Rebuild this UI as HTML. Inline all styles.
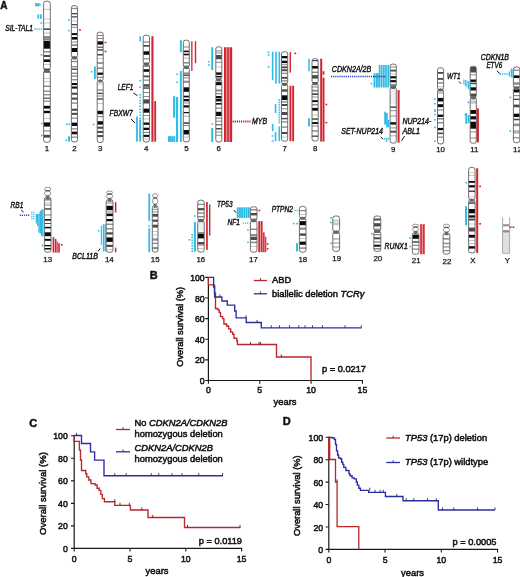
<!DOCTYPE html>
<html><head><meta charset="utf-8"><title>Figure</title>
<style>
html,body{margin:0;padding:0;background:#fff;}
body{width:520px;height:577px;overflow:hidden;font-family:"Liberation Sans", sans-serif;}
svg{display:block;filter:blur(0.3px);}
</style></head><body>
<svg width="520" height="577" viewBox="0 0 520 577">
<rect width="520" height="577" fill="#fff"/>
<g id="chroms">
<clipPath id="c1"><path d="M46 1.2H47.9A2.4 2.4 0 0 1 50.3 3.6V68.12A2.68 2.68 0 0 1 47.62 70.8H46.28A2.68 2.68 0 0 1 43.6 68.12V3.6A2.4 2.4 0 0 1 46 1.2Z"/><path d="M46.28 70.2H47.62A2.68 2.68 0 0 1 50.3 72.88V139.9A2.4 2.4 0 0 1 47.9 142.3H46A2.4 2.4 0 0 1 43.6 139.9V72.88A2.68 2.68 0 0 1 46.28 70.2Z"/></clipPath>
<g clip-path="url(#c1)"><rect x="43.6" y="1.2" width="6.7" height="141.1" fill="#fff"/>
<rect x="43.6" y="8.8" width="6.7" height="1.2" fill="#c8c8c8"/>
<rect x="43.6" y="18.5" width="6.7" height="1" fill="#c8c8c8"/>
<rect x="43.6" y="22.5" width="6.7" height="1" fill="#c8c8c8"/>
<rect x="43.6" y="28.4" width="6.7" height="1.6" fill="#4a4a4a"/>
<rect x="43.6" y="32.5" width="6.7" height="1.2" fill="#c8c8c8"/>
<rect x="43.6" y="36" width="6.7" height="4.6" fill="#8c8c8c"/>
<rect x="43.6" y="41" width="6.7" height="7.7" fill="#0a0a0a"/>
<rect x="43.6" y="51" width="6.7" height="1.5" fill="#8c8c8c"/>
<rect x="43.6" y="55" width="6.7" height="2" fill="#4a4a4a"/>
<rect x="43.6" y="59.4" width="6.7" height="2.6" fill="#0a0a0a"/>
<rect x="43.6" y="63.8" width="6.7" height="1.2" fill="#c8c8c8"/>
<rect x="43.6" y="68.5" width="6.7" height="4.1" fill="#4a4a4a"/>
<rect x="43.6" y="78" width="6.7" height="1" fill="#c8c8c8"/>
<rect x="43.6" y="81.2" width="6.7" height="1" fill="#c8c8c8"/>
<rect x="43.6" y="85.5" width="6.7" height="1.5" fill="#8c8c8c"/>
<rect x="43.6" y="90.5" width="6.7" height="1.4" fill="#8c8c8c"/>
<rect x="43.6" y="94" width="6.7" height="1.4" fill="#8c8c8c"/>
<rect x="43.6" y="97.6" width="6.7" height="1.2" fill="#4a4a4a"/>
<rect x="43.6" y="100.5" width="6.7" height="1.3" fill="#8c8c8c"/>
<rect x="43.6" y="105.8" width="6.7" height="2.8" fill="#0a0a0a"/>
<rect x="43.6" y="110.8" width="6.7" height="2.4" fill="#0a0a0a"/>
<rect x="43.6" y="118" width="6.7" height="1" fill="#c8c8c8"/>
<rect x="43.6" y="122.4" width="6.7" height="4.2" fill="#0a0a0a"/>
<rect x="43.6" y="130.3" width="6.7" height="1.2" fill="#8c8c8c"/>
<rect x="43.6" y="134.8" width="6.7" height="2.8" fill="#4a4a4a"/>
</g>
<g fill="none" stroke="#555" stroke-width="0.85"><path d="M46 1.2H47.9A2.4 2.4 0 0 1 50.3 3.6V68.12A2.68 2.68 0 0 1 47.62 70.8H46.28A2.68 2.68 0 0 1 43.6 68.12V3.6A2.4 2.4 0 0 1 46 1.2Z"/><path d="M46.28 70.2H47.62A2.68 2.68 0 0 1 50.3 72.88V139.9A2.4 2.4 0 0 1 47.9 142.3H46A2.4 2.4 0 0 1 43.6 139.9V72.88A2.68 2.68 0 0 1 46.28 70.2Z"/></g>
<path d="M46.95 68.8L49.4 72.4L44.5 72.4Z" fill="#666"/>
<clipPath id="c2"><path d="M73.69 5.6H75.21A2.29 2.29 0 0 1 77.5 7.89V55.36A2.44 2.44 0 0 1 75.06 57.8H73.84A2.44 2.44 0 0 1 71.4 55.36V7.89A2.29 2.29 0 0 1 73.69 5.6Z"/><path d="M73.84 57.2H75.06A2.44 2.44 0 0 1 77.5 59.64V139.71A2.29 2.29 0 0 1 75.21 142H73.69A2.29 2.29 0 0 1 71.4 139.71V59.64A2.44 2.44 0 0 1 73.84 57.2Z"/></clipPath>
<g clip-path="url(#c2)"><rect x="71.4" y="5.6" width="6.1" height="136.4" fill="#fff"/>
<rect x="71.4" y="7.8" width="6.1" height="1.3" fill="#8c8c8c"/>
<rect x="71.4" y="13" width="6.1" height="1.3" fill="#4a4a4a"/>
<rect x="71.4" y="16.2" width="6.1" height="1.3" fill="#4a4a4a"/>
<rect x="71.4" y="20.5" width="6.1" height="1" fill="#c8c8c8"/>
<rect x="71.4" y="24" width="6.1" height="1.3" fill="#4a4a4a"/>
<rect x="71.4" y="26.8" width="6.1" height="1" fill="#8c8c8c"/>
<rect x="71.4" y="33.1" width="6.1" height="2" fill="#0a0a0a"/>
<rect x="71.4" y="37" width="6.1" height="2.6" fill="#0a0a0a"/>
<rect x="71.4" y="41.5" width="6.1" height="1" fill="#8c8c8c"/>
<rect x="71.4" y="44.2" width="6.1" height="1.9" fill="#8c8c8c"/>
<rect x="71.4" y="48" width="6.1" height="4" fill="#0a0a0a"/>
<rect x="71.4" y="56.5" width="6.1" height="2" fill="#4a4a4a"/>
<rect x="71.4" y="60.8" width="6.1" height="1.4" fill="#8c8c8c"/>
<rect x="71.4" y="66" width="6.1" height="1.4" fill="#8c8c8c"/>
<rect x="71.4" y="68.5" width="6.1" height="1.4" fill="#4a4a4a"/>
<rect x="71.4" y="72.6" width="6.1" height="1.4" fill="#8c8c8c"/>
<rect x="71.4" y="75.4" width="6.1" height="1.4" fill="#8c8c8c"/>
<rect x="71.4" y="79" width="6.1" height="1.4" fill="#8c8c8c"/>
<rect x="71.4" y="83" width="6.1" height="2.1" fill="#0a0a0a"/>
<rect x="71.4" y="86.5" width="6.1" height="2.1" fill="#0a0a0a"/>
<rect x="71.4" y="92.7" width="6.1" height="2.1" fill="#4a4a4a"/>
<rect x="71.4" y="97.6" width="6.1" height="2.1" fill="#4a4a4a"/>
<rect x="71.4" y="102.4" width="6.1" height="1.4" fill="#8c8c8c"/>
<rect x="71.4" y="108.7" width="6.1" height="2.1" fill="#4a4a4a"/>
<rect x="71.4" y="112.8" width="6.1" height="2.1" fill="#4a4a4a"/>
<rect x="71.4" y="117.5" width="6.1" height="1.3" fill="#8c8c8c"/>
<rect x="71.4" y="122.6" width="6.1" height="3.4" fill="#0a0a0a"/>
<rect x="71.4" y="128.2" width="6.1" height="1.3" fill="#8c8c8c"/>
<rect x="71.4" y="131.6" width="6.1" height="2.7" fill="#0a0a0a"/>
<rect x="71.4" y="136.5" width="6.1" height="1.3" fill="#8c8c8c"/>
</g>
<g fill="none" stroke="#555" stroke-width="0.85"><path d="M73.69 5.6H75.21A2.29 2.29 0 0 1 77.5 7.89V55.36A2.44 2.44 0 0 1 75.06 57.8H73.84A2.44 2.44 0 0 1 71.4 55.36V7.89A2.29 2.29 0 0 1 73.69 5.6Z"/><path d="M73.84 57.2H75.06A2.44 2.44 0 0 1 77.5 59.64V139.71A2.29 2.29 0 0 1 75.21 142H73.69A2.29 2.29 0 0 1 71.4 139.71V59.64A2.44 2.44 0 0 1 73.84 57.2Z"/></g>
<path d="M74.45 55.8L76.6 59.4L72.3 59.4Z" fill="#666"/>
<clipPath id="c3"><path d="M99.45 32.2H100.95A2.25 2.25 0 0 1 103.2 34.45V78.4A2.4 2.4 0 0 1 100.8 80.8H99.6A2.4 2.4 0 0 1 97.2 78.4V34.45A2.25 2.25 0 0 1 99.45 32.2Z"/><path d="M99.6 80.2H100.8A2.4 2.4 0 0 1 103.2 82.6V140.25A2.25 2.25 0 0 1 100.95 142.5H99.45A2.25 2.25 0 0 1 97.2 140.25V82.6A2.4 2.4 0 0 1 99.6 80.2Z"/></clipPath>
<g clip-path="url(#c3)"><rect x="97.2" y="32.2" width="6" height="110.3" fill="#fff"/>
<rect x="97.2" y="35" width="6" height="1" fill="#8c8c8c"/>
<rect x="97.2" y="38" width="6" height="1" fill="#8c8c8c"/>
<rect x="97.2" y="41.3" width="6" height="3.3" fill="#0a0a0a"/>
<rect x="97.2" y="46.6" width="6" height="1.2" fill="#4a4a4a"/>
<rect x="97.2" y="49.2" width="6" height="1.5" fill="#4a4a4a"/>
<rect x="97.2" y="54" width="6" height="1.5" fill="#4a4a4a"/>
<rect x="97.2" y="58" width="6" height="1" fill="#c8c8c8"/>
<rect x="97.2" y="62.2" width="6" height="1.7" fill="#8c8c8c"/>
<rect x="97.2" y="67.4" width="6" height="1.6" fill="#8c8c8c"/>
<rect x="97.2" y="72.6" width="6" height="2.2" fill="#0a0a0a"/>
<rect x="97.2" y="76.8" width="6" height="1.2" fill="#8c8c8c"/>
<rect x="97.2" y="83.5" width="6" height="1" fill="#c8c8c8"/>
<rect x="97.2" y="89.3" width="6" height="1.4" fill="#8c8c8c"/>
<rect x="97.2" y="92.7" width="6" height="1.4" fill="#4a4a4a"/>
<rect x="97.2" y="95.5" width="6" height="1" fill="#8c8c8c"/>
<rect x="97.2" y="98.3" width="6" height="1.4" fill="#4a4a4a"/>
<rect x="97.2" y="103" width="6" height="1" fill="#c8c8c8"/>
<rect x="97.2" y="110.8" width="6" height="3.4" fill="#0a0a0a"/>
<rect x="97.2" y="116" width="6" height="1.2" fill="#8c8c8c"/>
<rect x="97.2" y="121.2" width="6" height="3.4" fill="#0a0a0a"/>
<rect x="97.2" y="126.7" width="6" height="2.1" fill="#4a4a4a"/>
<rect x="97.2" y="130.9" width="6" height="2.1" fill="#4a4a4a"/>
<rect x="97.2" y="135" width="6" height="2.1" fill="#4a4a4a"/>
</g>
<g fill="none" stroke="#555" stroke-width="0.85"><path d="M99.45 32.2H100.95A2.25 2.25 0 0 1 103.2 34.45V78.4A2.4 2.4 0 0 1 100.8 80.8H99.6A2.4 2.4 0 0 1 97.2 78.4V34.45A2.25 2.25 0 0 1 99.45 32.2Z"/><path d="M99.6 80.2H100.8A2.4 2.4 0 0 1 103.2 82.6V140.25A2.25 2.25 0 0 1 100.95 142.5H99.45A2.25 2.25 0 0 1 97.2 140.25V82.6A2.4 2.4 0 0 1 99.6 80.2Z"/></g>
<path d="M100.2 78.8L102.3 82.4L98.1 82.4Z" fill="#666"/>
<clipPath id="c4"><path d="M145.56 35.2H147.14A2.36 2.36 0 0 1 149.5 37.56V61.78A2.52 2.52 0 0 1 146.98 64.3H145.72A2.52 2.52 0 0 1 143.2 61.78V37.56A2.36 2.36 0 0 1 145.56 35.2Z"/><path d="M145.72 63.7H146.98A2.52 2.52 0 0 1 149.5 66.22V139.64A2.36 2.36 0 0 1 147.14 142H145.56A2.36 2.36 0 0 1 143.2 139.64V66.22A2.52 2.52 0 0 1 145.72 63.7Z"/></clipPath>
<g clip-path="url(#c4)"><rect x="143.2" y="35.2" width="6.3" height="106.8" fill="#fff"/>
<rect x="143.2" y="41.4" width="6.3" height="1.3" fill="#8c8c8c"/>
<rect x="143.2" y="45" width="6.3" height="1.7" fill="#4a4a4a"/>
<rect x="143.2" y="51.3" width="6.3" height="3.5" fill="#0a0a0a"/>
<rect x="143.2" y="58.2" width="6.3" height="1.2" fill="#8c8c8c"/>
<rect x="143.2" y="62.6" width="6.3" height="2.2" fill="#4a4a4a"/>
<rect x="143.2" y="65.8" width="6.3" height="1.2" fill="#8c8c8c"/>
<rect x="143.2" y="69.2" width="6.3" height="2.6" fill="#0a0a0a"/>
<rect x="143.2" y="75.5" width="6.3" height="1.8" fill="#4a4a4a"/>
<rect x="143.2" y="79.5" width="6.3" height="1.3" fill="#8c8c8c"/>
<rect x="143.2" y="84.2" width="6.3" height="2.5" fill="#4a4a4a"/>
<rect x="143.2" y="87.3" width="6.3" height="1.5" fill="#4a4a4a"/>
<rect x="143.2" y="92" width="6.3" height="1" fill="#8c8c8c"/>
<rect x="143.2" y="96" width="6.3" height="1" fill="#8c8c8c"/>
<rect x="143.2" y="99.4" width="6.3" height="4.1" fill="#4a4a4a"/>
<rect x="143.2" y="108.6" width="6.3" height="4.1" fill="#0a0a0a"/>
<rect x="143.2" y="115" width="6.3" height="1" fill="#8c8c8c"/>
<rect x="143.2" y="118.5" width="6.3" height="1" fill="#c8c8c8"/>
<rect x="143.2" y="122.5" width="6.3" height="2.3" fill="#0a0a0a"/>
<rect x="143.2" y="127.7" width="6.3" height="2.3" fill="#0a0a0a"/>
<rect x="143.2" y="131.8" width="6.3" height="1.2" fill="#8c8c8c"/>
<rect x="143.2" y="134.8" width="6.3" height="2.1" fill="#0a0a0a"/>
<rect x="143.2" y="138.5" width="6.3" height="1" fill="#c8c8c8"/>
</g>
<g fill="none" stroke="#555" stroke-width="0.85"><path d="M145.56 35.2H147.14A2.36 2.36 0 0 1 149.5 37.56V61.78A2.52 2.52 0 0 1 146.98 64.3H145.72A2.52 2.52 0 0 1 143.2 61.78V37.56A2.36 2.36 0 0 1 145.56 35.2Z"/><path d="M145.72 63.7H146.98A2.52 2.52 0 0 1 149.5 66.22V139.64A2.36 2.36 0 0 1 147.14 142H145.56A2.36 2.36 0 0 1 143.2 139.64V66.22A2.52 2.52 0 0 1 145.72 63.7Z"/></g>
<path d="M146.35 62.3L148.6 65.9L144.1 65.9Z" fill="#666"/>
<clipPath id="c5"><path d="M185.55 40.2H187.05A2.25 2.25 0 0 1 189.3 42.45V65.1A2.4 2.4 0 0 1 186.9 67.5H185.7A2.4 2.4 0 0 1 183.3 65.1V42.45A2.25 2.25 0 0 1 185.55 40.2Z"/><path d="M185.7 66.9H186.9A2.4 2.4 0 0 1 189.3 69.3V139.65A2.25 2.25 0 0 1 187.05 141.9H185.55A2.25 2.25 0 0 1 183.3 139.65V69.3A2.4 2.4 0 0 1 185.7 66.9Z"/></clipPath>
<g clip-path="url(#c5)"><rect x="183.3" y="40.2" width="6" height="101.7" fill="#fff"/>
<rect x="183.3" y="46.4" width="6" height="1.1" fill="#8c8c8c"/>
<rect x="183.3" y="50.6" width="6" height="1.6" fill="#0a0a0a"/>
<rect x="183.3" y="53.7" width="6" height="1.6" fill="#0a0a0a"/>
<rect x="183.3" y="57.5" width="6" height="1.3" fill="#c8c8c8"/>
<rect x="183.3" y="62" width="6" height="1.6" fill="#8c8c8c"/>
<rect x="183.3" y="65.5" width="6" height="3" fill="#8c8c8c"/>
<rect x="183.3" y="72.4" width="6" height="1.6" fill="#8c8c8c"/>
<rect x="183.3" y="74.5" width="6" height="1.5" fill="#4a4a4a"/>
<rect x="183.3" y="77.3" width="6" height="1.1" fill="#8c8c8c"/>
<rect x="183.3" y="80.7" width="6" height="2.1" fill="#8c8c8c"/>
<rect x="183.3" y="87.3" width="6" height="4.5" fill="#0a0a0a"/>
<rect x="183.3" y="95.7" width="6" height="1.7" fill="#0a0a0a"/>
<rect x="183.3" y="99" width="6" height="2.3" fill="#0a0a0a"/>
<rect x="183.3" y="102.5" width="6" height="1" fill="#8c8c8c"/>
<rect x="183.3" y="105.3" width="6" height="2.2" fill="#0a0a0a"/>
<rect x="183.3" y="112" width="6" height="1.2" fill="#0a0a0a"/>
<rect x="183.3" y="115.5" width="6" height="1.5" fill="#c8c8c8"/>
<rect x="183.3" y="122.2" width="6" height="1.7" fill="#4a4a4a"/>
<rect x="183.3" y="125" width="6" height="1" fill="#8c8c8c"/>
<rect x="183.3" y="130" width="6" height="4.5" fill="#0a0a0a"/>
<rect x="183.3" y="136.5" width="6" height="1" fill="#c8c8c8"/>
</g>
<g fill="none" stroke="#555" stroke-width="0.85"><path d="M185.55 40.2H187.05A2.25 2.25 0 0 1 189.3 42.45V65.1A2.4 2.4 0 0 1 186.9 67.5H185.7A2.4 2.4 0 0 1 183.3 65.1V42.45A2.25 2.25 0 0 1 185.55 40.2Z"/><path d="M185.7 66.9H186.9A2.4 2.4 0 0 1 189.3 69.3V139.65A2.25 2.25 0 0 1 187.05 141.9H185.55A2.25 2.25 0 0 1 183.3 139.65V69.3A2.4 2.4 0 0 1 185.7 66.9Z"/></g>
<path d="M186.3 65.5L188.4 69.1L184.2 69.1Z" fill="#666"/>
<clipPath id="c6"><path d="M218.05 46.8H219.55A2.25 2.25 0 0 1 221.8 49.05V77.4A2.4 2.4 0 0 1 219.4 79.8H218.2A2.4 2.4 0 0 1 215.8 77.4V49.05A2.25 2.25 0 0 1 218.05 46.8Z"/><path d="M218.2 79.2H219.4A2.4 2.4 0 0 1 221.8 81.6V139.75A2.25 2.25 0 0 1 219.55 142H218.05A2.25 2.25 0 0 1 215.8 139.75V81.6A2.4 2.4 0 0 1 218.2 79.2Z"/></clipPath>
<g clip-path="url(#c6)"><rect x="215.8" y="46.8" width="6" height="95.2" fill="#fff"/>
<rect x="215.8" y="50.4" width="6" height="1" fill="#8c8c8c"/>
<rect x="215.8" y="52.5" width="6" height="1" fill="#8c8c8c"/>
<rect x="215.8" y="55" width="6" height="4.2" fill="#4a4a4a"/>
<rect x="215.8" y="61.8" width="6" height="1.1" fill="#8c8c8c"/>
<rect x="215.8" y="66.5" width="6" height="1" fill="#c8c8c8"/>
<rect x="215.8" y="72.4" width="6" height="2.4" fill="#0a0a0a"/>
<rect x="215.8" y="75.9" width="6" height="1.5" fill="#0a0a0a"/>
<rect x="215.8" y="78.5" width="6" height="2" fill="#4a4a4a"/>
<rect x="215.8" y="82.1" width="6" height="3.1" fill="#0a0a0a"/>
<rect x="215.8" y="89.4" width="6" height="2.1" fill="#8c8c8c"/>
<rect x="215.8" y="93" width="6" height="1.3" fill="#8c8c8c"/>
<rect x="215.8" y="96" width="6" height="2.2" fill="#0a0a0a"/>
<rect x="215.8" y="98.8" width="6" height="2.6" fill="#0a0a0a"/>
<rect x="215.8" y="103" width="6" height="1.6" fill="#0a0a0a"/>
<rect x="215.8" y="107.5" width="6" height="1.3" fill="#8c8c8c"/>
<rect x="215.8" y="111.8" width="6" height="4.2" fill="#0a0a0a"/>
<rect x="215.8" y="117.5" width="6" height="1.3" fill="#8c8c8c"/>
<rect x="215.8" y="120.7" width="6" height="1" fill="#8c8c8c"/>
<rect x="215.8" y="124.3" width="6" height="1" fill="#4a4a4a"/>
<rect x="215.8" y="128" width="6" height="1.5" fill="#4a4a4a"/>
<rect x="215.8" y="131.6" width="6" height="1" fill="#8c8c8c"/>
<rect x="215.8" y="134.7" width="6" height="1" fill="#8c8c8c"/>
</g>
<g fill="none" stroke="#555" stroke-width="0.85"><path d="M218.05 46.8H219.55A2.25 2.25 0 0 1 221.8 49.05V77.4A2.4 2.4 0 0 1 219.4 79.8H218.2A2.4 2.4 0 0 1 215.8 77.4V49.05A2.25 2.25 0 0 1 218.05 46.8Z"/><path d="M218.2 79.2H219.4A2.4 2.4 0 0 1 221.8 81.6V139.75A2.25 2.25 0 0 1 219.55 142H218.05A2.25 2.25 0 0 1 215.8 139.75V81.6A2.4 2.4 0 0 1 218.2 79.2Z"/></g>
<path d="M218.8 77.8L220.9 81.4L216.7 81.4Z" fill="#666"/>
<clipPath id="c7"><path d="M283.82 51.7H285.38A2.32 2.32 0 0 1 287.7 54.02V81.82A2.48 2.48 0 0 1 285.22 84.3H283.98A2.48 2.48 0 0 1 281.5 81.82V54.02A2.32 2.32 0 0 1 283.82 51.7Z"/><path d="M283.98 83.7H285.22A2.48 2.48 0 0 1 287.7 86.18V138.88A2.32 2.32 0 0 1 285.38 141.2H283.82A2.32 2.32 0 0 1 281.5 138.88V86.18A2.48 2.48 0 0 1 283.98 83.7Z"/></clipPath>
<g clip-path="url(#c7)"><rect x="281.5" y="51.7" width="6.2" height="89.5" fill="#fff"/>
<rect x="281.5" y="56" width="6.2" height="2.3" fill="#0a0a0a"/>
<rect x="281.5" y="60.7" width="6.2" height="2.4" fill="#0a0a0a"/>
<rect x="281.5" y="64.2" width="6.2" height="1" fill="#8c8c8c"/>
<rect x="281.5" y="66.4" width="6.2" height="1.9" fill="#4a4a4a"/>
<rect x="281.5" y="69.3" width="6.2" height="1.9" fill="#4a4a4a"/>
<rect x="281.5" y="72.7" width="6.2" height="1.3" fill="#8c8c8c"/>
<rect x="281.5" y="76.9" width="6.2" height="1.9" fill="#4a4a4a"/>
<rect x="281.5" y="80.2" width="6.2" height="1.4" fill="#8c8c8c"/>
<rect x="281.5" y="83" width="6.2" height="2" fill="#4a4a4a"/>
<rect x="281.5" y="89.3" width="6.2" height="2.4" fill="#4a4a4a"/>
<rect x="281.5" y="95.3" width="6.2" height="4.7" fill="#0a0a0a"/>
<rect x="281.5" y="101.2" width="6.2" height="1.4" fill="#8c8c8c"/>
<rect x="281.5" y="104" width="6.2" height="2" fill="#4a4a4a"/>
<rect x="281.5" y="108.3" width="6.2" height="1" fill="#8c8c8c"/>
<rect x="281.5" y="112" width="6.2" height="3" fill="#4a4a4a"/>
<rect x="281.5" y="117.9" width="6.2" height="1.4" fill="#4a4a4a"/>
<rect x="281.5" y="121.2" width="6.2" height="1.4" fill="#8c8c8c"/>
<rect x="281.5" y="126.4" width="6.2" height="1.4" fill="#8c8c8c"/>
<rect x="281.5" y="132" width="6.2" height="2" fill="#4a4a4a"/>
<rect x="281.5" y="136.5" width="6.2" height="1" fill="#c8c8c8"/>
</g>
<g fill="none" stroke="#555" stroke-width="0.85"><path d="M283.82 51.7H285.38A2.32 2.32 0 0 1 287.7 54.02V81.82A2.48 2.48 0 0 1 285.22 84.3H283.98A2.48 2.48 0 0 1 281.5 81.82V54.02A2.32 2.32 0 0 1 283.82 51.7Z"/><path d="M283.98 83.7H285.22A2.48 2.48 0 0 1 287.7 86.18V138.88A2.32 2.32 0 0 1 285.38 141.2H283.82A2.32 2.32 0 0 1 281.5 138.88V86.18A2.48 2.48 0 0 1 283.98 83.7Z"/></g>
<path d="M284.6 82.3L286.8 85.9L282.4 85.9Z" fill="#666"/>
<clipPath id="c8"><path d="M314.32 58.7H315.88A2.32 2.32 0 0 1 318.2 61.02V81.12A2.48 2.48 0 0 1 315.72 83.6H314.48A2.48 2.48 0 0 1 312 81.12V61.02A2.32 2.32 0 0 1 314.32 58.7Z"/><path d="M314.48 83H315.72A2.48 2.48 0 0 1 318.2 85.48V138.68A2.32 2.32 0 0 1 315.88 141H314.32A2.32 2.32 0 0 1 312 138.68V85.48A2.48 2.48 0 0 1 314.48 83Z"/></clipPath>
<g clip-path="url(#c8)"><rect x="312" y="58.7" width="6.2" height="82.3" fill="#fff"/>
<rect x="312" y="60" width="6.2" height="1.3" fill="#4a4a4a"/>
<rect x="312" y="66" width="6.2" height="2.6" fill="#0a0a0a"/>
<rect x="312" y="71.6" width="6.2" height="1.4" fill="#8c8c8c"/>
<rect x="312" y="75.1" width="6.2" height="3.5" fill="#4a4a4a"/>
<rect x="312" y="82" width="6.2" height="2.5" fill="#4a4a4a"/>
<rect x="312" y="86.5" width="6.2" height="1" fill="#8c8c8c"/>
<rect x="312" y="89.8" width="6.2" height="1.8" fill="#8c8c8c"/>
<rect x="312" y="93.3" width="6.2" height="1.7" fill="#4a4a4a"/>
<rect x="312" y="96.5" width="6.2" height="1" fill="#8c8c8c"/>
<rect x="312" y="100.2" width="6.2" height="1.9" fill="#0a0a0a"/>
<rect x="312" y="104" width="6.2" height="1.5" fill="#8c8c8c"/>
<rect x="312" y="107.9" width="6.2" height="2.8" fill="#0a0a0a"/>
<rect x="312" y="114.5" width="6.2" height="1" fill="#c8c8c8"/>
<rect x="312" y="118.3" width="6.2" height="1.5" fill="#4a4a4a"/>
<rect x="312" y="122.1" width="6.2" height="1.9" fill="#0a0a0a"/>
<rect x="312" y="125.5" width="6.2" height="1" fill="#8c8c8c"/>
<rect x="312" y="130.2" width="6.2" height="1.5" fill="#8c8c8c"/>
<rect x="312" y="135.5" width="6.2" height="1.4" fill="#4a4a4a"/>
</g>
<g fill="none" stroke="#555" stroke-width="0.85"><path d="M314.32 58.7H315.88A2.32 2.32 0 0 1 318.2 61.02V81.12A2.48 2.48 0 0 1 315.72 83.6H314.48A2.48 2.48 0 0 1 312 81.12V61.02A2.32 2.32 0 0 1 314.32 58.7Z"/><path d="M314.48 83H315.72A2.48 2.48 0 0 1 318.2 85.48V138.68A2.32 2.32 0 0 1 315.88 141H314.32A2.32 2.32 0 0 1 312 138.68V85.48A2.48 2.48 0 0 1 314.48 83Z"/></g>
<path d="M315.1 81.6L317.3 85.2L312.9 85.2Z" fill="#666"/>
<clipPath id="c9"><path d="M392.43 64.1H393.98A2.32 2.32 0 0 1 396.3 66.42V84.82A2.48 2.48 0 0 1 393.82 87.3H392.58A2.48 2.48 0 0 1 390.1 84.82V66.42A2.32 2.32 0 0 1 392.43 64.1Z"/><path d="M392.58 86.7H393.82A2.48 2.48 0 0 1 396.3 89.18V140.78A2.32 2.32 0 0 1 393.98 143.1H392.43A2.32 2.32 0 0 1 390.1 140.78V89.18A2.48 2.48 0 0 1 392.58 86.7Z"/></clipPath>
<g clip-path="url(#c9)"><rect x="390.1" y="64.1" width="6.2" height="79" fill="#fff"/>
<rect x="390.1" y="66.5" width="6.2" height="1" fill="#8c8c8c"/>
<rect x="390.1" y="69.7" width="6.2" height="1.8" fill="#4a4a4a"/>
<rect x="390.1" y="73.5" width="6.2" height="1" fill="#c8c8c8"/>
<rect x="390.1" y="76.2" width="6.2" height="2.2" fill="#0a0a0a"/>
<rect x="390.1" y="80.1" width="6.2" height="2.2" fill="#0a0a0a"/>
<rect x="390.1" y="84" width="6.2" height="2" fill="#8c8c8c"/>
<rect x="390.1" y="86" width="6.2" height="2" fill="#4a4a4a"/>
<rect x="390.1" y="89" width="6.2" height="15" fill="#f0f0f0"/>
<rect x="390.1" y="106.4" width="6.2" height="1.5" fill="#4a4a4a"/>
<rect x="390.1" y="110.2" width="6.2" height="1" fill="#8c8c8c"/>
<rect x="390.1" y="115.5" width="6.2" height="1" fill="#8c8c8c"/>
<rect x="390.1" y="122.2" width="6.2" height="2.4" fill="#0a0a0a"/>
<rect x="390.1" y="127.4" width="6.2" height="1" fill="#8c8c8c"/>
<rect x="390.1" y="130.7" width="6.2" height="2" fill="#4a4a4a"/>
<rect x="390.1" y="135" width="6.2" height="1.5" fill="#c8c8c8"/>
</g>
<g fill="none" stroke="#555" stroke-width="0.85"><path d="M392.43 64.1H393.98A2.32 2.32 0 0 1 396.3 66.42V84.82A2.48 2.48 0 0 1 393.82 87.3H392.58A2.48 2.48 0 0 1 390.1 84.82V66.42A2.32 2.32 0 0 1 392.43 64.1Z"/><path d="M392.58 86.7H393.82A2.48 2.48 0 0 1 396.3 89.18V140.78A2.32 2.32 0 0 1 393.98 143.1H392.43A2.32 2.32 0 0 1 390.1 140.78V89.18A2.48 2.48 0 0 1 392.58 86.7Z"/></g>
<path d="M393.2 85.3L395.4 88.9L391 88.9Z" fill="#666"/>
<clipPath id="c10"><path d="M439.79 67.8H441.31A2.29 2.29 0 0 1 443.6 70.09V87.56A2.44 2.44 0 0 1 441.16 90H439.94A2.44 2.44 0 0 1 437.5 87.56V70.09A2.29 2.29 0 0 1 439.79 67.8Z"/><path d="M439.94 89.4H441.16A2.44 2.44 0 0 1 443.6 91.84V141.61A2.29 2.29 0 0 1 441.31 143.9H439.79A2.29 2.29 0 0 1 437.5 141.61V91.84A2.44 2.44 0 0 1 439.94 89.4Z"/></clipPath>
<g clip-path="url(#c10)"><rect x="437.5" y="67.8" width="6.1" height="76.1" fill="#fff"/>
<rect x="437.5" y="72" width="6.1" height="1.8" fill="#4a4a4a"/>
<rect x="437.5" y="78" width="6.1" height="1.8" fill="#4a4a4a"/>
<rect x="437.5" y="82.1" width="6.1" height="1.5" fill="#8c8c8c"/>
<rect x="437.5" y="86.3" width="6.1" height="1" fill="#c8c8c8"/>
<rect x="437.5" y="88.8" width="6.1" height="2" fill="#4a4a4a"/>
<rect x="437.5" y="92.5" width="6.1" height="1" fill="#8c8c8c"/>
<rect x="437.5" y="97.9" width="6.1" height="3.6" fill="#0a0a0a"/>
<rect x="437.5" y="104.2" width="6.1" height="2.9" fill="#0a0a0a"/>
<rect x="437.5" y="109.4" width="6.1" height="1.2" fill="#8c8c8c"/>
<rect x="437.5" y="114.6" width="6.1" height="2.3" fill="#0a0a0a"/>
<rect x="437.5" y="118" width="6.1" height="1.6" fill="#8c8c8c"/>
<rect x="437.5" y="122" width="6.1" height="1.5" fill="#8c8c8c"/>
<rect x="437.5" y="127.9" width="6.1" height="2.3" fill="#0a0a0a"/>
<rect x="437.5" y="132.5" width="6.1" height="1.7" fill="#4a4a4a"/>
<rect x="437.5" y="136.5" width="6.1" height="1.3" fill="#8c8c8c"/>
</g>
<g fill="none" stroke="#555" stroke-width="0.85"><path d="M439.79 67.8H441.31A2.29 2.29 0 0 1 443.6 70.09V87.56A2.44 2.44 0 0 1 441.16 90H439.94A2.44 2.44 0 0 1 437.5 87.56V70.09A2.29 2.29 0 0 1 439.79 67.8Z"/><path d="M439.94 89.4H441.16A2.44 2.44 0 0 1 443.6 91.84V141.61A2.29 2.29 0 0 1 441.31 143.9H439.79A2.29 2.29 0 0 1 437.5 141.61V91.84A2.44 2.44 0 0 1 439.94 89.4Z"/></g>
<path d="M440.55 88L442.7 91.6L438.4 91.6Z" fill="#666"/>
<clipPath id="c11"><path d="M472.49 66.3H474.01A2.29 2.29 0 0 1 476.3 68.59V95.36A2.44 2.44 0 0 1 473.86 97.8H472.64A2.44 2.44 0 0 1 470.2 95.36V68.59A2.29 2.29 0 0 1 472.49 66.3Z"/><path d="M472.64 97.2H473.86A2.44 2.44 0 0 1 476.3 99.64V140.91A2.29 2.29 0 0 1 474.01 143.2H472.49A2.29 2.29 0 0 1 470.2 140.91V99.64A2.44 2.44 0 0 1 472.64 97.2Z"/></clipPath>
<g clip-path="url(#c11)"><rect x="470.2" y="66.3" width="6.1" height="76.9" fill="#fff"/>
<rect x="470.2" y="67" width="6.1" height="5.5" fill="#4a4a4a"/>
<rect x="470.2" y="74.3" width="6.1" height="1" fill="#8c8c8c"/>
<rect x="470.2" y="79.5" width="6.1" height="2.4" fill="#0a0a0a"/>
<rect x="470.2" y="82.7" width="6.1" height="1.5" fill="#4a4a4a"/>
<rect x="470.2" y="87.3" width="6.1" height="3.2" fill="#0a0a0a"/>
<rect x="470.2" y="93.6" width="6.1" height="3.1" fill="#4a4a4a"/>
<rect x="470.2" y="96.7" width="6.1" height="1.8" fill="#4a4a4a"/>
<rect x="470.2" y="100.6" width="6.1" height="3.1" fill="#c8c8c8"/>
<rect x="470.2" y="110" width="6.1" height="3.9" fill="#0a0a0a"/>
<rect x="470.2" y="116.2" width="6.1" height="3.2" fill="#0a0a0a"/>
<rect x="470.2" y="121.7" width="6.1" height="7" fill="#0a0a0a"/>
<rect x="470.2" y="131.4" width="6.1" height="1" fill="#8c8c8c"/>
<rect x="470.2" y="137.5" width="6.1" height="1" fill="#8c8c8c"/>
</g>
<g fill="none" stroke="#555" stroke-width="0.85"><path d="M472.49 66.3H474.01A2.29 2.29 0 0 1 476.3 68.59V95.36A2.44 2.44 0 0 1 473.86 97.8H472.64A2.44 2.44 0 0 1 470.2 95.36V68.59A2.29 2.29 0 0 1 472.49 66.3Z"/><path d="M472.64 97.2H473.86A2.44 2.44 0 0 1 476.3 99.64V140.91A2.29 2.29 0 0 1 474.01 143.2H472.49A2.29 2.29 0 0 1 470.2 140.91V99.64A2.44 2.44 0 0 1 472.64 97.2Z"/></g>
<path d="M473.25 95.8L475.4 99.4L471.1 99.4Z" fill="#666"/>
<clipPath id="c12"><path d="M515.8 67H517.4A2.4 2.4 0 0 1 519.8 69.4V85.74A2.56 2.56 0 0 1 517.24 88.3H515.96A2.56 2.56 0 0 1 513.4 85.74V69.4A2.4 2.4 0 0 1 515.8 67Z"/><path d="M515.96 87.7H517.24A2.56 2.56 0 0 1 519.8 90.26V140.3A2.4 2.4 0 0 1 517.4 142.7H515.8A2.4 2.4 0 0 1 513.4 140.3V90.26A2.56 2.56 0 0 1 515.96 87.7Z"/></clipPath>
<g clip-path="url(#c12)"><rect x="513.4" y="67" width="6.4" height="75.7" fill="#fff"/>
<rect x="513.4" y="69.5" width="6.4" height="1.3" fill="#8c8c8c"/>
<rect x="513.4" y="75.4" width="6.4" height="2.6" fill="#0a0a0a"/>
<rect x="513.4" y="82.3" width="6.4" height="2.5" fill="#8c8c8c"/>
<rect x="513.4" y="86.5" width="6.4" height="1.8" fill="#4a4a4a"/>
<rect x="513.4" y="89" width="6.4" height="3.4" fill="#0a0a0a"/>
<rect x="513.4" y="95" width="6.4" height="1.2" fill="#8c8c8c"/>
<rect x="513.4" y="98.6" width="6.4" height="1.4" fill="#4a4a4a"/>
<rect x="513.4" y="104.6" width="6.4" height="2.7" fill="#4a4a4a"/>
<rect x="513.4" y="113.7" width="6.4" height="3.3" fill="#0a0a0a"/>
<rect x="513.4" y="118.7" width="6.4" height="1.6" fill="#4a4a4a"/>
<rect x="513.4" y="123.6" width="6.4" height="2.5" fill="#8c8c8c"/>
<rect x="513.4" y="130.5" width="6.4" height="1.2" fill="#8c8c8c"/>
<rect x="513.4" y="132.4" width="6.4" height="1" fill="#8c8c8c"/>
<rect x="513.4" y="137.2" width="6.4" height="1.2" fill="#8c8c8c"/>
</g>
<g fill="none" stroke="#555" stroke-width="0.85"><path d="M515.8 67H517.4A2.4 2.4 0 0 1 519.8 69.4V85.74A2.56 2.56 0 0 1 517.24 88.3H515.96A2.56 2.56 0 0 1 513.4 85.74V69.4A2.4 2.4 0 0 1 515.8 67Z"/><path d="M515.96 87.7H517.24A2.56 2.56 0 0 1 519.8 90.26V140.3A2.4 2.4 0 0 1 517.4 142.7H515.8A2.4 2.4 0 0 1 513.4 140.3V90.26A2.56 2.56 0 0 1 515.96 87.7Z"/></g>
<path d="M516.6 86.3L518.9 89.9L514.3 89.9Z" fill="#666"/>
<clipPath id="c13"><path d="M46.8 197H48.6A2.4 2.4 0 0 1 51 199.4V249.8A2.4 2.4 0 0 1 48.6 252.2H46.8A2.4 2.4 0 0 1 44.4 249.8V199.4A2.4 2.4 0 0 1 46.8 197Z"/></clipPath>
<g clip-path="url(#c13)"><rect x="44.4" y="197" width="6.6" height="55.2" fill="#fff"/>
<rect x="44.4" y="199" width="6.6" height="1.6" fill="#8c8c8c"/>
<rect x="44.4" y="202.3" width="6.6" height="1" fill="#c8c8c8"/>
<rect x="44.4" y="204.4" width="6.6" height="1" fill="#8c8c8c"/>
<rect x="44.4" y="208.2" width="6.6" height="1.5" fill="#4a4a4a"/>
<rect x="44.4" y="214.4" width="6.6" height="1.1" fill="#8c8c8c"/>
<rect x="44.4" y="219.1" width="6.6" height="1.6" fill="#0a0a0a"/>
<rect x="44.4" y="223" width="6.6" height="1" fill="#4a4a4a"/>
<rect x="44.4" y="226.8" width="6.6" height="1.6" fill="#0a0a0a"/>
<rect x="44.4" y="232.3" width="6.6" height="3.9" fill="#0a0a0a"/>
<rect x="44.4" y="238.9" width="6.6" height="1.9" fill="#0a0a0a"/>
<rect x="44.4" y="245" width="6.6" height="1.3" fill="#0a0a0a"/>
<rect x="44.4" y="248" width="6.6" height="1.5" fill="#0a0a0a"/>
</g>
<g fill="none" stroke="#555" stroke-width="0.85"><path d="M46.8 197H48.6A2.4 2.4 0 0 1 51 199.4V249.8A2.4 2.4 0 0 1 48.6 252.2H46.8A2.4 2.4 0 0 1 44.4 249.8V199.4A2.4 2.4 0 0 1 46.8 197Z"/></g>
<path d="M47.7 195.6L50.1 199.2L45.3 199.2Z" fill="#666"/>
<ellipse cx="47.7" cy="188.97" rx="3.14" ry="1.77" fill="#fff" stroke="#6a6a6a" stroke-width="0.7"/>
<ellipse cx="47.7" cy="193.34" rx="3.14" ry="2.51" fill="#fff" stroke="#6a6a6a" stroke-width="0.7"/>
<path d="M45.72 190.36L49.68 191.11M49.68 190.36L45.72 191.11" stroke="#555" stroke-width="0.7"/>
<rect x="46.05" y="195.6" width="3.3" height="0.9" fill="#555"/>
<clipPath id="c14"><path d="M108.6 199.5H110.6A2.4 2.4 0 0 1 113 201.9V249.8A2.4 2.4 0 0 1 110.6 252.2H108.6A2.4 2.4 0 0 1 106.2 249.8V201.9A2.4 2.4 0 0 1 108.6 199.5Z"/></clipPath>
<g clip-path="url(#c14)"><rect x="106.2" y="199.5" width="6.8" height="52.7" fill="#fff"/>
<rect x="106.2" y="202.5" width="6.8" height="1" fill="#8c8c8c"/>
<rect x="106.2" y="205.8" width="6.8" height="4.4" fill="#0a0a0a"/>
<rect x="106.2" y="211.5" width="6.8" height="1" fill="#8c8c8c"/>
<rect x="106.2" y="213.6" width="6.8" height="2.5" fill="#0a0a0a"/>
<rect x="106.2" y="219" width="6.8" height="2.2" fill="#0a0a0a"/>
<rect x="106.2" y="223.6" width="6.8" height="1.4" fill="#8c8c8c"/>
<rect x="106.2" y="228" width="6.8" height="1.5" fill="#8c8c8c"/>
<rect x="106.2" y="232.3" width="6.8" height="2.2" fill="#4a4a4a"/>
<rect x="106.2" y="237.4" width="6.8" height="4.5" fill="#0a0a0a"/>
<rect x="106.2" y="244.8" width="6.8" height="2.2" fill="#4a4a4a"/>
<rect x="106.2" y="249" width="6.8" height="1" fill="#c8c8c8"/>
</g>
<g fill="none" stroke="#555" stroke-width="0.85"><path d="M108.6 199.5H110.6A2.4 2.4 0 0 1 113 201.9V249.8A2.4 2.4 0 0 1 110.6 252.2H108.6A2.4 2.4 0 0 1 106.2 249.8V201.9A2.4 2.4 0 0 1 108.6 199.5Z"/></g>
<path d="M109.6 198.1L112.1 201.7L107.1 201.7Z" fill="#666"/>
<ellipse cx="109.6" cy="192.52" rx="3.23" ry="1.52" fill="#fff" stroke="#6a6a6a" stroke-width="0.7"/>
<ellipse cx="109.6" cy="196.28" rx="3.23" ry="2.16" fill="#fff" stroke="#6a6a6a" stroke-width="0.7"/>
<path d="M107.56 193.72L111.64 194.36M111.64 193.72L107.56 194.36" stroke="#555" stroke-width="0.7"/>
<rect x="107.9" y="198.1" width="3.4" height="0.9" fill="#555"/>
<clipPath id="c15"><path d="M154.44 205.5H155.86A2.14 2.14 0 0 1 158 207.64V249.96A2.14 2.14 0 0 1 155.86 252.1H154.44A2.14 2.14 0 0 1 152.3 249.96V207.64A2.14 2.14 0 0 1 154.44 205.5Z"/></clipPath>
<g clip-path="url(#c15)"><rect x="152.3" y="205.5" width="5.7" height="46.6" fill="#fff"/>
<rect x="152.3" y="208.8" width="5.7" height="1" fill="#8c8c8c"/>
<rect x="152.3" y="211.4" width="5.7" height="1" fill="#8c8c8c"/>
<rect x="152.3" y="213.9" width="5.7" height="2.8" fill="#4a4a4a"/>
<rect x="152.3" y="219.6" width="5.7" height="2.2" fill="#4a4a4a"/>
<rect x="152.3" y="224.7" width="5.7" height="2.9" fill="#4a4a4a"/>
<rect x="152.3" y="231" width="5.7" height="1" fill="#c8c8c8"/>
<rect x="152.3" y="234.5" width="5.7" height="1" fill="#c8c8c8"/>
<rect x="152.3" y="238.4" width="5.7" height="2.2" fill="#8c8c8c"/>
<rect x="152.3" y="242.7" width="5.7" height="1.3" fill="#8c8c8c"/>
<rect x="152.3" y="247" width="5.7" height="2.2" fill="#8c8c8c"/>
</g>
<g fill="none" stroke="#555" stroke-width="0.85"><path d="M154.44 205.5H155.86A2.14 2.14 0 0 1 158 207.64V249.96A2.14 2.14 0 0 1 155.86 252.1H154.44A2.14 2.14 0 0 1 152.3 249.96V207.64A2.14 2.14 0 0 1 154.44 205.5Z"/></g>
<path d="M155.15 204.1L157.1 207.7L153.2 207.7Z" fill="#666"/>
<ellipse cx="155.15" cy="195.85" rx="2.71" ry="2.15" fill="#fff" stroke="#6a6a6a" stroke-width="0.7"/>
<ellipse cx="155.15" cy="201.16" rx="2.71" ry="3.05" fill="#fff" stroke="#6a6a6a" stroke-width="0.7"/>
<path d="M153.44 197.54L156.86 198.45M156.86 197.54L153.44 198.45" stroke="#555" stroke-width="0.7"/>
<rect x="153.73" y="204.1" width="2.85" height="0.9" fill="#555"/>
<clipPath id="c16"><path d="M200.1 200.2H201.8A2.4 2.4 0 0 1 204.2 202.6V218.1A2.6 2.6 0 0 1 201.6 220.7H200.3A2.6 2.6 0 0 1 197.7 218.1V202.6A2.4 2.4 0 0 1 200.1 200.2Z"/><path d="M200.3 220.1H201.6A2.6 2.6 0 0 1 204.2 222.7V249.7A2.4 2.4 0 0 1 201.8 252.1H200.1A2.4 2.4 0 0 1 197.7 249.7V222.7A2.6 2.6 0 0 1 200.3 220.1Z"/></clipPath>
<g clip-path="url(#c16)"><rect x="197.7" y="200.2" width="6.5" height="51.9" fill="#fff"/>
<rect x="197.7" y="203.8" width="6.5" height="1.2" fill="#8c8c8c"/>
<rect x="197.7" y="208.1" width="6.5" height="2.2" fill="#4a4a4a"/>
<rect x="197.7" y="212.4" width="6.5" height="1.4" fill="#8c8c8c"/>
<rect x="197.7" y="216" width="6.5" height="1.4" fill="#8c8c8c"/>
<rect x="197.7" y="219.2" width="6.5" height="2.4" fill="#4a4a4a"/>
<rect x="197.7" y="223" width="6.5" height="8" fill="#f0f0f0"/>
<rect x="197.7" y="232" width="6.5" height="2" fill="#8c8c8c"/>
<rect x="197.7" y="234" width="6.5" height="4.4" fill="#0a0a0a"/>
<rect x="197.7" y="242" width="6.5" height="2.2" fill="#4a4a4a"/>
<rect x="197.7" y="244.2" width="6.5" height="1.4" fill="#8c8c8c"/>
<rect x="197.7" y="248" width="6.5" height="1.2" fill="#c8c8c8"/>
</g>
<g fill="none" stroke="#555" stroke-width="0.85"><path d="M200.1 200.2H201.8A2.4 2.4 0 0 1 204.2 202.6V218.1A2.6 2.6 0 0 1 201.6 220.7H200.3A2.6 2.6 0 0 1 197.7 218.1V202.6A2.4 2.4 0 0 1 200.1 200.2Z"/><path d="M200.3 220.1H201.6A2.6 2.6 0 0 1 204.2 222.7V249.7A2.4 2.4 0 0 1 201.8 252.1H200.1A2.4 2.4 0 0 1 197.7 249.7V222.7A2.6 2.6 0 0 1 200.3 220.1Z"/></g>
<path d="M200.95 218.7L203.3 222.3L198.6 222.3Z" fill="#666"/>
<clipPath id="c17"><path d="M252.8 206.8H254.6A2.4 2.4 0 0 1 257 209.2V217.96A2.64 2.64 0 0 1 254.36 220.6H253.04A2.64 2.64 0 0 1 250.4 217.96V209.2A2.4 2.4 0 0 1 252.8 206.8Z"/><path d="M253.04 220H254.36A2.64 2.64 0 0 1 257 222.64V249.8A2.4 2.4 0 0 1 254.6 252.2H252.8A2.4 2.4 0 0 1 250.4 249.8V222.64A2.64 2.64 0 0 1 253.04 220Z"/></clipPath>
<g clip-path="url(#c17)"><rect x="250.4" y="206.8" width="6.6" height="45.4" fill="#fff"/>
<rect x="250.4" y="209" width="6.6" height="1.5" fill="#8c8c8c"/>
<rect x="250.4" y="213" width="6.6" height="2.4" fill="#4a4a4a"/>
<rect x="250.4" y="218.5" width="6.6" height="3" fill="#8c8c8c"/>
<rect x="250.4" y="228.5" width="6.6" height="1.5" fill="#8c8c8c"/>
<rect x="250.4" y="234" width="6.6" height="2" fill="#8c8c8c"/>
<rect x="250.4" y="236.7" width="6.6" height="3.3" fill="#4a4a4a"/>
<rect x="250.4" y="241.6" width="6.6" height="1.6" fill="#8c8c8c"/>
<rect x="250.4" y="246" width="6.6" height="1" fill="#c8c8c8"/>
</g>
<g fill="none" stroke="#555" stroke-width="0.85"><path d="M252.8 206.8H254.6A2.4 2.4 0 0 1 257 209.2V217.96A2.64 2.64 0 0 1 254.36 220.6H253.04A2.64 2.64 0 0 1 250.4 217.96V209.2A2.4 2.4 0 0 1 252.8 206.8Z"/><path d="M253.04 220H254.36A2.64 2.64 0 0 1 257 222.64V249.8A2.4 2.4 0 0 1 254.6 252.2H252.8A2.4 2.4 0 0 1 250.4 249.8V222.64A2.64 2.64 0 0 1 253.04 220Z"/></g>
<path d="M253.7 218.6L256.1 222.2L251.3 222.2Z" fill="#666"/>
<clipPath id="c18"><path d="M301.8 206.4H303.6A2.4 2.4 0 0 1 306 208.8V215.56A2.64 2.64 0 0 1 303.36 218.2H302.04A2.64 2.64 0 0 1 299.4 215.56V208.8A2.4 2.4 0 0 1 301.8 206.4Z"/><path d="M302.04 217.6H303.36A2.64 2.64 0 0 1 306 220.24V249.8A2.4 2.4 0 0 1 303.6 252.2H301.8A2.4 2.4 0 0 1 299.4 249.8V220.24A2.64 2.64 0 0 1 302.04 217.6Z"/></clipPath>
<g clip-path="url(#c18)"><rect x="299.4" y="206.4" width="6.6" height="45.8" fill="#fff"/>
<rect x="299.4" y="210" width="6.6" height="1.3" fill="#8c8c8c"/>
<rect x="299.4" y="214" width="6.6" height="1" fill="#c8c8c8"/>
<rect x="299.4" y="217" width="6.6" height="2" fill="#8c8c8c"/>
<rect x="299.4" y="221.1" width="6.6" height="4.1" fill="#0a0a0a"/>
<rect x="299.4" y="227.6" width="6.6" height="2.2" fill="#8c8c8c"/>
<rect x="299.4" y="233.4" width="6.6" height="2.4" fill="#4a4a4a"/>
<rect x="299.4" y="238" width="6.6" height="1" fill="#c8c8c8"/>
<rect x="299.4" y="241.6" width="6.6" height="3.2" fill="#0a0a0a"/>
<rect x="299.4" y="247.3" width="6.6" height="1.6" fill="#8c8c8c"/>
</g>
<g fill="none" stroke="#555" stroke-width="0.85"><path d="M301.8 206.4H303.6A2.4 2.4 0 0 1 306 208.8V215.56A2.64 2.64 0 0 1 303.36 218.2H302.04A2.64 2.64 0 0 1 299.4 215.56V208.8A2.4 2.4 0 0 1 301.8 206.4Z"/><path d="M302.04 217.6H303.36A2.64 2.64 0 0 1 306 220.24V249.8A2.4 2.4 0 0 1 303.6 252.2H301.8A2.4 2.4 0 0 1 299.4 249.8V220.24A2.64 2.64 0 0 1 302.04 217.6Z"/></g>
<path d="M302.7 216.2L305.1 219.8L300.3 219.8Z" fill="#666"/>
<clipPath id="c19"><path d="M335.2 216H337.2A2.4 2.4 0 0 1 339.6 218.4V229.48A2.72 2.72 0 0 1 336.88 232.2H335.52A2.72 2.72 0 0 1 332.8 229.48V218.4A2.4 2.4 0 0 1 335.2 216Z"/><path d="M335.52 231.6H336.88A2.72 2.72 0 0 1 339.6 234.32V249A2.4 2.4 0 0 1 337.2 251.4H335.2A2.4 2.4 0 0 1 332.8 249V234.32A2.72 2.72 0 0 1 335.52 231.6Z"/></clipPath>
<g clip-path="url(#c19)"><rect x="332.8" y="216" width="6.8" height="35.4" fill="#fff"/>
<rect x="332.8" y="219.8" width="6.8" height="1.7" fill="#c8c8c8"/>
<rect x="332.8" y="222.5" width="6.8" height="2.7" fill="#c8c8c8"/>
<rect x="332.8" y="230.5" width="6.8" height="3" fill="#8c8c8c"/>
<rect x="332.8" y="238" width="6.8" height="2" fill="#c8c8c8"/>
<rect x="332.8" y="242" width="6.8" height="2" fill="#c8c8c8"/>
<rect x="332.8" y="246" width="6.8" height="2" fill="#c8c8c8"/>
</g>
<g fill="none" stroke="#555" stroke-width="0.85"><path d="M335.2 216H337.2A2.4 2.4 0 0 1 339.6 218.4V229.48A2.72 2.72 0 0 1 336.88 232.2H335.52A2.72 2.72 0 0 1 332.8 229.48V218.4A2.4 2.4 0 0 1 335.2 216Z"/><path d="M335.52 231.6H336.88A2.72 2.72 0 0 1 339.6 234.32V249A2.4 2.4 0 0 1 337.2 251.4H335.2A2.4 2.4 0 0 1 332.8 249V234.32A2.72 2.72 0 0 1 335.52 231.6Z"/></g>
<path d="M336.2 230.2L338.7 233.8L333.7 233.8Z" fill="#666"/>
<clipPath id="c20"><path d="M376.2 216H378.4A2.4 2.4 0 0 1 380.8 218.4V228.7A2.8 2.8 0 0 1 378 231.5H376.6A2.8 2.8 0 0 1 373.8 228.7V218.4A2.4 2.4 0 0 1 376.2 216Z"/><path d="M376.6 230.9H378A2.8 2.8 0 0 1 380.8 233.7V249A2.4 2.4 0 0 1 378.4 251.4H376.2A2.4 2.4 0 0 1 373.8 249V233.7A2.8 2.8 0 0 1 376.6 230.9Z"/></clipPath>
<g clip-path="url(#c20)"><rect x="373.8" y="216" width="7" height="35.4" fill="#fff"/>
<rect x="373.8" y="218.5" width="7" height="2" fill="#4a4a4a"/>
<rect x="373.8" y="223.2" width="7" height="3.3" fill="#4a4a4a"/>
<rect x="373.8" y="228.5" width="7" height="1.3" fill="#8c8c8c"/>
<rect x="373.8" y="230" width="7" height="2.5" fill="#4a4a4a"/>
<rect x="373.8" y="234" width="7" height="1.3" fill="#8c8c8c"/>
<rect x="373.8" y="237.3" width="7" height="2" fill="#4a4a4a"/>
<rect x="373.8" y="241.3" width="7" height="1.4" fill="#8c8c8c"/>
<rect x="373.8" y="244.7" width="7" height="2" fill="#0a0a0a"/>
<rect x="373.8" y="248" width="7" height="1.5" fill="#8c8c8c"/>
</g>
<g fill="none" stroke="#555" stroke-width="0.85"><path d="M376.2 216H378.4A2.4 2.4 0 0 1 380.8 218.4V228.7A2.8 2.8 0 0 1 378 231.5H376.6A2.8 2.8 0 0 1 373.8 228.7V218.4A2.4 2.4 0 0 1 376.2 216Z"/><path d="M376.6 230.9H378A2.8 2.8 0 0 1 380.8 233.7V249A2.4 2.4 0 0 1 378.4 251.4H376.2A2.4 2.4 0 0 1 373.8 249V233.7A2.8 2.8 0 0 1 376.6 230.9Z"/></g>
<path d="M377.3 229.5L379.9 233.1L374.7 233.1Z" fill="#666"/>
<clipPath id="c21"><path d="M414.7 232.5H416.6A2.4 2.4 0 0 1 419 234.9V251.8A2.4 2.4 0 0 1 416.6 254.2H414.7A2.4 2.4 0 0 1 412.3 251.8V234.9A2.4 2.4 0 0 1 414.7 232.5Z"/></clipPath>
<g clip-path="url(#c21)"><rect x="412.3" y="232.5" width="6.7" height="21.7" fill="#fff"/>
<rect x="412.3" y="235" width="6.7" height="3.8" fill="#0a0a0a"/>
<rect x="412.3" y="241.2" width="6.7" height="1.5" fill="#4a4a4a"/>
<rect x="412.3" y="244.8" width="6.7" height="1.2" fill="#8c8c8c"/>
<rect x="412.3" y="248.5" width="6.7" height="1.3" fill="#8c8c8c"/>
</g>
<g fill="none" stroke="#555" stroke-width="0.85"><path d="M414.7 232.5H416.6A2.4 2.4 0 0 1 419 234.9V251.8A2.4 2.4 0 0 1 416.6 254.2H414.7A2.4 2.4 0 0 1 412.3 251.8V234.9A2.4 2.4 0 0 1 414.7 232.5Z"/></g>
<path d="M415.65 231.1L418.1 234.7L413.2 234.7Z" fill="#666"/>
<ellipse cx="415.65" cy="225.68" rx="3.18" ry="1.48" fill="#fff" stroke="#6a6a6a" stroke-width="0.7"/>
<ellipse cx="415.65" cy="229.35" rx="3.18" ry="2.11" fill="#fff" stroke="#6a6a6a" stroke-width="0.7"/>
<path d="M413.64 226.85L417.66 227.48M417.66 226.85L413.64 227.48" stroke="#555" stroke-width="0.7"/>
<rect x="413.97" y="231.1" width="3.35" height="0.9" fill="#555"/>
<clipPath id="c22"><path d="M445.5 233H447.4A2.4 2.4 0 0 1 449.8 235.4V251.8A2.4 2.4 0 0 1 447.4 254.2H445.5A2.4 2.4 0 0 1 443.1 251.8V235.4A2.4 2.4 0 0 1 445.5 233Z"/></clipPath>
<g clip-path="url(#c22)"><rect x="443.1" y="233" width="6.7" height="21.2" fill="#fff"/>
<rect x="443.1" y="238" width="6.7" height="1.6" fill="#8c8c8c"/>
<rect x="443.1" y="242.7" width="6.7" height="1.5" fill="#8c8c8c"/>
<rect x="443.1" y="246.3" width="6.7" height="1.2" fill="#8c8c8c"/>
<rect x="443.1" y="250" width="6.7" height="1.3" fill="#8c8c8c"/>
</g>
<g fill="none" stroke="#555" stroke-width="0.85"><path d="M445.5 233H447.4A2.4 2.4 0 0 1 449.8 235.4V251.8A2.4 2.4 0 0 1 447.4 254.2H445.5A2.4 2.4 0 0 1 443.1 251.8V235.4A2.4 2.4 0 0 1 445.5 233Z"/></g>
<path d="M446.45 231.6L448.9 235.2L444 235.2Z" fill="#666"/>
<ellipse cx="446.45" cy="225.81" rx="3.18" ry="1.61" fill="#fff" stroke="#6a6a6a" stroke-width="0.7"/>
<ellipse cx="446.45" cy="229.81" rx="3.18" ry="2.29" fill="#fff" stroke="#6a6a6a" stroke-width="0.7"/>
<path d="M444.44 227.09L448.46 227.77M448.46 227.09L444.44 227.77" stroke="#555" stroke-width="0.7"/>
<rect x="444.78" y="231.8" width="3.35" height="0.9" fill="#555"/>
<clipPath id="c23"><path d="M471 167.5H472.7A2.4 2.4 0 0 1 475.1 169.9V197.5A2.6 2.6 0 0 1 472.5 200.1H471.2A2.6 2.6 0 0 1 468.6 197.5V169.9A2.4 2.4 0 0 1 471 167.5Z"/><path d="M471.2 199.5H472.5A2.6 2.6 0 0 1 475.1 202.1V250.5A2.4 2.4 0 0 1 472.7 252.9H471A2.4 2.4 0 0 1 468.6 250.5V202.1A2.6 2.6 0 0 1 471.2 199.5Z"/></clipPath>
<g clip-path="url(#c23)"><rect x="468.6" y="167.5" width="6.5" height="85.4" fill="#fff"/>
<rect x="468.6" y="172.3" width="6.5" height="1" fill="#c8c8c8"/>
<rect x="468.6" y="175" width="6.5" height="1" fill="#c8c8c8"/>
<rect x="468.6" y="181" width="6.5" height="1.8" fill="#0a0a0a"/>
<rect x="468.6" y="185.2" width="6.5" height="2.2" fill="#0a0a0a"/>
<rect x="468.6" y="190.5" width="6.5" height="1.5" fill="#4a4a4a"/>
<rect x="468.6" y="196.5" width="6.5" height="1" fill="#c8c8c8"/>
<rect x="468.6" y="202.3" width="6.5" height="1.5" fill="#4a4a4a"/>
<rect x="468.6" y="209" width="6.5" height="4.3" fill="#0a0a0a"/>
<rect x="468.6" y="215.3" width="6.5" height="2.3" fill="#0a0a0a"/>
<rect x="468.6" y="218.6" width="6.5" height="1.9" fill="#4a4a4a"/>
<rect x="468.6" y="223.5" width="6.5" height="1" fill="#c8c8c8"/>
<rect x="468.6" y="227.6" width="6.5" height="3.9" fill="#4a4a4a"/>
<rect x="468.6" y="234.8" width="6.5" height="2.9" fill="#0a0a0a"/>
<rect x="468.6" y="240" width="6.5" height="1" fill="#c8c8c8"/>
<rect x="468.6" y="243" width="6.5" height="1" fill="#c8c8c8"/>
<rect x="468.6" y="246.2" width="6.5" height="2.4" fill="#0a0a0a"/>
</g>
<g fill="none" stroke="#555" stroke-width="0.85"><path d="M471 167.5H472.7A2.4 2.4 0 0 1 475.1 169.9V197.5A2.6 2.6 0 0 1 472.5 200.1H471.2A2.6 2.6 0 0 1 468.6 197.5V169.9A2.4 2.4 0 0 1 471 167.5Z"/><path d="M471.2 199.5H472.5A2.6 2.6 0 0 1 475.1 202.1V250.5A2.4 2.4 0 0 1 472.7 252.9H471A2.4 2.4 0 0 1 468.6 250.5V202.1A2.6 2.6 0 0 1 471.2 199.5Z"/></g>
<path d="M471.85 198.1L474.2 201.7L469.5 201.7Z" fill="#666"/>
<clipPath id="c24"><rect x="502.6" y="217.5" width="7" height="35.8"/></clipPath>
<g clip-path="url(#c24)"><rect x="502.6" y="217.5" width="7" height="35.8" fill="#fff"/>
<rect x="502.6" y="224.3" width="7" height="2" fill="#8c8c8c"/>
<rect x="502.6" y="230.2" width="7" height="2.4" fill="#8c8c8c"/>
<rect x="502.6" y="233.2" width="7" height="20.1" fill="#e0e0e0"/>
</g>
<path d="M502.6 217.5V253.3H509.6V217.5" fill="none" stroke="#a0a0a0" stroke-width="0.9"/>
</g>
<g fill="#2ebbe6">
<rect x="35.1" y="3.2" width="2" height="3.1"/>
<rect x="37.1" y="3.2" width="2" height="3.1"/>
<rect x="39.3" y="3.4" width="1.2" height="2.6"/>
<rect x="37.45" y="14.4" width="1.5" height="4.4"/>
<rect x="39.8" y="14.4" width="2" height="4.4"/>
<rect x="68.05" y="136.3" width="2" height="5.3"/>
<rect x="94" y="66.5" width="1.8" height="12.5"/>
<rect x="139.44" y="36.3" width="1.62" height="5.2"/>
<rect x="139.21" y="119.5" width="1.88" height="22"/>
<rect x="136.1" y="116.5" width="1.8" height="25.1"/>
<rect x="179.91" y="40.2" width="1.88" height="12"/>
<rect x="179.91" y="70.9" width="1.88" height="71"/>
<rect x="176" y="97.1" width="2.1" height="44.8"/>
<rect x="173.1" y="96.2" width="2" height="21.4"/>
<rect x="168.01" y="136.2" width="1.88" height="5.7"/>
<rect x="169.81" y="136.2" width="1.88" height="5.7"/>
<rect x="171.61" y="136.2" width="1.88" height="5.7"/>
<rect x="173.41" y="136.2" width="1.88" height="5.7"/>
<rect x="211.2" y="47.3" width="2" height="22.8"/>
<rect x="211.2" y="128" width="2" height="14"/>
<rect x="271.84" y="51.7" width="1.62" height="28.5"/>
<rect x="275.14" y="51.7" width="1.62" height="31.9"/>
<rect x="278.54" y="51.7" width="1.62" height="31.9"/>
<rect x="278.54" y="126.4" width="1.62" height="14.8"/>
<rect x="274.74" y="104" width="1.62" height="9.1"/>
<rect x="274.74" y="132.1" width="1.62" height="9.1"/>
<rect x="271.84" y="124" width="1.62" height="7.2"/>
<rect x="308.25" y="58.7" width="1.5" height="12.5"/>
<rect x="308.11" y="118.3" width="1.88" height="8.1"/>
<rect x="378.73" y="65" width="1.69" height="22.5"/>
<rect x="380.83" y="65" width="1.69" height="22.5"/>
<rect x="383.03" y="65" width="1.69" height="22.5"/>
<rect x="385.13" y="65" width="1.69" height="22.5"/>
<rect x="387.33" y="65" width="1.69" height="22.5"/>
<rect x="373.54" y="73.2" width="1.62" height="14.3"/>
<rect x="375.64" y="73.2" width="1.62" height="14.3"/>
<rect x="377.14" y="73.2" width="1.62" height="14.3"/>
<rect x="384.21" y="111.7" width="1.88" height="12.9"/>
<rect x="386.12" y="113" width="1.75" height="14.4"/>
<rect x="387.95" y="119.8" width="1.5" height="7.6"/>
<rect x="463.4" y="79.5" width="1" height="5"/>
<rect x="464.9" y="80" width="1" height="6"/>
<rect x="466.4" y="80.5" width="1" height="7"/>
<rect x="467.9" y="81" width="1" height="8"/>
<rect x="469.4" y="82" width="1" height="8.5"/>
<rect x="465.31" y="113" width="1.88" height="11"/>
<rect x="467.71" y="115" width="1.88" height="8"/>
<rect x="510.71" y="68.6" width="1.88" height="8.8"/>
<rect x="508.68" y="71.5" width="1.25" height="4.9"/>
<rect x="31.2" y="211.7" width="1.2" height="1.3"/>
<rect x="31.2" y="213.8" width="1.2" height="1.3"/>
<rect x="31.2" y="215.9" width="1.2" height="1.3"/>
<rect x="31.2" y="218" width="1.2" height="1.3"/>
<rect x="33.2" y="211.7" width="1.2" height="1.3"/>
<rect x="33.2" y="213.8" width="1.2" height="1.3"/>
<rect x="33.2" y="215.9" width="1.2" height="1.3"/>
<rect x="33.2" y="218" width="1.2" height="1.3"/>
<rect x="35.76" y="214" width="1.38" height="9.4"/>
<rect x="37.06" y="214" width="1.38" height="12"/>
<rect x="38.36" y="213.5" width="1.38" height="19.2"/>
<rect x="39.66" y="211" width="1.38" height="22.5"/>
<rect x="40.96" y="209.4" width="1.38" height="26.8"/>
<rect x="42.16" y="209.4" width="1.38" height="26.8"/>
<rect x="41.8" y="244.4" width="1.2" height="2.1"/>
<rect x="104.45" y="224.2" width="1.5" height="27.2"/>
<rect x="102.78" y="224.2" width="1.25" height="27.2"/>
<rect x="100.79" y="225.7" width="1.12" height="19.1"/>
<rect x="148.4" y="193.5" width="1.8" height="27.6"/>
<rect x="148.4" y="228.3" width="1.8" height="24"/>
<rect x="193.9" y="221.8" width="2" height="29.9"/>
<rect x="236.75" y="207.3" width="2" height="10.6"/>
<rect x="238.95" y="207.3" width="2" height="10.6"/>
<rect x="241.15" y="207.3" width="2" height="10.6"/>
<rect x="243.35" y="207.3" width="2" height="10.6"/>
<rect x="245.55" y="207.3" width="2" height="10.6"/>
<rect x="247.75" y="207.3" width="2" height="10.6"/>
<rect x="296" y="243.2" width="2" height="8.2"/>
<rect x="465.05" y="206.2" width="2" height="19.1"/>
<rect x="40.45" y="22.25" width="1.7" height="1.5"/>
<rect x="40.65" y="54.25" width="1.7" height="1.5"/>
<rect x="40.95" y="122.75" width="1.7" height="1.5"/>
<rect x="40.95" y="134.75" width="1.7" height="1.5"/>
<rect x="67.95" y="19.25" width="1.7" height="1.5"/>
<rect x="67.95" y="29.85" width="1.7" height="1.5"/>
<rect x="66.15" y="123.55" width="1.7" height="1.5"/>
<rect x="68.55" y="123.55" width="1.7" height="1.5"/>
<rect x="65.35" y="139.45" width="1.7" height="1.5"/>
<rect x="90.75" y="70.95" width="1.7" height="1.5"/>
<rect x="92.65" y="123.75" width="1.7" height="1.5"/>
<rect x="139.35" y="79.95" width="1.7" height="1.5"/>
<rect x="139.35" y="86.35" width="1.7" height="1.5"/>
<rect x="139.35" y="94.05" width="1.7" height="1.5"/>
<rect x="139.35" y="96.75" width="1.7" height="1.5"/>
<rect x="139.35" y="99.75" width="1.7" height="1.5"/>
<rect x="139.35" y="102.65" width="1.7" height="1.5"/>
<rect x="139.35" y="105.55" width="1.7" height="1.5"/>
<rect x="139.35" y="108.55" width="1.7" height="1.5"/>
<rect x="139.35" y="111.55" width="1.7" height="1.5"/>
<rect x="139.35" y="114.55" width="1.7" height="1.5"/>
<rect x="139.35" y="117.55" width="1.7" height="1.5"/>
<rect x="176.35" y="73.55" width="1.7" height="1.5"/>
<rect x="176.35" y="81.55" width="1.7" height="1.5"/>
<rect x="207.95" y="61.05" width="1.7" height="1.5"/>
<rect x="207.95" y="64.25" width="1.7" height="1.5"/>
<rect x="211.45" y="123.05" width="1.7" height="1.5"/>
<rect x="267.65" y="51.55" width="1.7" height="1.5"/>
<rect x="267.65" y="54.25" width="1.7" height="1.5"/>
<rect x="267.65" y="66.15" width="1.7" height="1.5"/>
<rect x="278.45" y="99.25" width="1.7" height="1.5"/>
<rect x="278.45" y="101.75" width="1.7" height="1.5"/>
<rect x="278.45" y="104.25" width="1.7" height="1.5"/>
<rect x="278.45" y="106.75" width="1.7" height="1.5"/>
<rect x="278.45" y="109.25" width="1.7" height="1.5"/>
<rect x="278.45" y="111.75" width="1.7" height="1.5"/>
<rect x="278.45" y="114.25" width="1.7" height="1.5"/>
<rect x="278.45" y="116.75" width="1.7" height="1.5"/>
<rect x="278.45" y="119.25" width="1.7" height="1.5"/>
<rect x="278.45" y="121.75" width="1.7" height="1.5"/>
<rect x="271.65" y="135.25" width="1.7" height="1.5"/>
<rect x="271.65" y="140.25" width="1.7" height="1.5"/>
<rect x="370.65" y="82.75" width="1.7" height="1.5"/>
<rect x="383.65" y="138.15" width="1.7" height="1.5"/>
<rect x="385.65" y="138.15" width="1.7" height="1.5"/>
<rect x="387.65" y="138.15" width="1.7" height="1.5"/>
<rect x="385.65" y="140.25" width="1.7" height="1.5"/>
<rect x="433.95" y="98.25" width="1.7" height="1.5"/>
<rect x="433.95" y="102.95" width="1.7" height="1.5"/>
<rect x="433.95" y="109.25" width="1.7" height="1.5"/>
<rect x="433.95" y="110.35" width="1.7" height="1.5"/>
<rect x="433.95" y="113.85" width="1.7" height="1.5"/>
<rect x="433.95" y="119.05" width="1.7" height="1.5"/>
<rect x="433.95" y="126.55" width="1.7" height="1.5"/>
<rect x="433.95" y="140.35" width="1.7" height="1.5"/>
<rect x="464.55" y="113.85" width="1.7" height="1.5"/>
<rect x="467.45" y="101.75" width="1.7" height="1.5"/>
<rect x="509.45" y="96.65" width="1.7" height="1.5"/>
<rect x="509.45" y="130.25" width="1.7" height="1.5"/>
<rect x="97.85" y="230.05" width="1.7" height="1.5"/>
<rect x="148.45" y="225.35" width="1.7" height="1.5"/>
<rect x="191.35" y="234.05" width="1.7" height="1.5"/>
<rect x="191.35" y="236.75" width="1.7" height="1.5"/>
<rect x="191.35" y="239.45" width="1.7" height="1.5"/>
<rect x="191.35" y="242.25" width="1.7" height="1.5"/>
<rect x="191.35" y="245.05" width="1.7" height="1.5"/>
<rect x="191.35" y="247.85" width="1.7" height="1.5"/>
<rect x="191.35" y="250.45" width="1.7" height="1.5"/>
<rect x="193.95" y="215.25" width="1.7" height="1.5"/>
<rect x="188.65" y="239.05" width="1.7" height="1.5"/>
<rect x="247.15" y="229.35" width="1.7" height="1.5"/>
<rect x="247.15" y="241.65" width="1.7" height="1.5"/>
<rect x="292.85" y="222.85" width="1.7" height="1.5"/>
<rect x="296.15" y="222.85" width="1.7" height="1.5"/>
<rect x="330.15" y="217.05" width="1.7" height="1.5"/>
<rect x="330.15" y="221.75" width="1.7" height="1.5"/>
<rect x="330.15" y="242.65" width="1.7" height="1.5"/>
<rect x="370.95" y="233.15" width="1.7" height="1.5"/>
<rect x="409.15" y="237.35" width="1.7" height="1.5"/>
<rect x="409.15" y="245.75" width="1.7" height="1.5"/>
<rect x="465.45" y="182.05" width="1.7" height="1.5"/>
</g>
<g fill="#d2232f">
<rect x="151.4" y="36.2" width="2.1" height="105.5"/>
<rect x="154.3" y="101" width="1.8" height="40.7"/>
<rect x="191.2" y="41.2" width="1.3" height="29.7"/>
<rect x="194.8" y="41.2" width="1.4" height="21.9"/>
<rect x="289.6" y="52.1" width="1.4" height="20.5"/>
<rect x="289.5" y="85.7" width="1.9" height="55.5"/>
<rect x="292.2" y="85.7" width="1.9" height="55.5"/>
<rect x="320.2" y="58.7" width="2" height="82.9"/>
<rect x="322.6" y="71.2" width="1.8" height="3.5"/>
<rect x="322.6" y="77.7" width="1.9" height="63.9"/>
<rect x="397.6" y="90.1" width="2" height="52.6"/>
<rect x="476.7" y="108.3" width="2.2" height="34"/>
<rect x="52.6" y="237.1" width="1.6" height="15.5"/>
<rect x="54.8" y="238.9" width="1.6" height="13.7"/>
<rect x="56.6" y="241.5" width="1.1" height="11.1"/>
<rect x="58.2" y="243.2" width="1.6" height="9.4"/>
<rect x="114.9" y="202.1" width="1.5" height="10.3"/>
<rect x="114.9" y="247.7" width="1.5" height="4.5"/>
<rect x="206.1" y="202" width="1.7" height="47.9"/>
<rect x="209" y="204.5" width="1.4" height="31"/>
<rect x="258.3" y="221.1" width="1.9" height="31.1"/>
<rect x="260.7" y="221.1" width="1.9" height="31.1"/>
<rect x="263.1" y="232.3" width="1.5" height="19.9"/>
<rect x="265.1" y="236.7" width="1.2" height="15.5"/>
<rect x="420.2" y="224.2" width="1.8" height="30"/>
<rect x="422.9" y="224.2" width="1.8" height="30"/>
<rect x="476.2" y="168.2" width="2" height="84.7"/>
<rect x="79.1" y="29.2" width="1.8" height="1.6"/>
<rect x="104.6" y="41.7" width="1.8" height="1.6"/>
<rect x="104.6" y="50.6" width="1.8" height="1.6"/>
<rect x="294.4" y="52.6" width="1.8" height="1.6"/>
<rect x="325.5" y="103.7" width="1.8" height="1.6"/>
<rect x="325.5" y="121.8" width="1.8" height="1.6"/>
<rect x="60.8" y="244" width="1.8" height="1.6"/>
<rect x="258.5" y="209.7" width="1.8" height="1.6"/>
<rect x="266.7" y="243.2" width="1.8" height="1.6"/>
<rect x="266.7" y="248.1" width="1.8" height="1.6"/>
<rect x="479.2" y="185.6" width="1.8" height="1.6"/>
<rect x="479.2" y="223" width="1.8" height="1.6"/>
<rect x="509.7" y="226.4" width="1.8" height="1.6"/>
<rect x="512.5" y="226.4" width="1.8" height="1.6"/>
</g>
<rect x="421.8" y="224.2" width="1.3" height="30" fill="#f0909a"/>
<rect x="224" y="47.3" width="8.1" height="94.7" fill="#f08890"/>
<rect x="224" y="47.3" width="1.9" height="94.7" fill="#d2232f"/>
<rect x="227.1" y="47.3" width="2.1" height="94.7" fill="#c8464e"/>
<rect x="230.1" y="47.3" width="2" height="94.7" fill="#d2232f"/>
<line x1="34.4" y1="28.9" x2="43" y2="28.9" stroke="#2ebbe6" stroke-width="1.45" stroke-dasharray="1.2 0.9"/>
<line x1="232.6" y1="121.6" x2="250.5" y2="121.6" stroke="#c0232e" stroke-width="2.0" stroke-dasharray="1.2 0.9"/>
<line x1="331" y1="76.5" x2="386" y2="76.5" stroke="#2a3fbf" stroke-width="1.45" stroke-dasharray="1.2 0.9"/>
<line x1="500" y1="74" x2="508.5" y2="74" stroke="#2ebbe6" stroke-width="1.45" stroke-dasharray="1.2 0.9"/>
<line x1="19.7" y1="215.3" x2="29.5" y2="215.3" stroke="#2a4fbf" stroke-width="1.45" stroke-dasharray="1.2 0.9"/>
<line x1="242.8" y1="223.1" x2="249.5" y2="223.1" stroke="#2ebbe6" stroke-width="1.45" stroke-dasharray="1.2 0.9"/>
<line x1="294.5" y1="210.5" x2="298.5" y2="210.5" stroke="#2ebbe6" stroke-width="1.45" stroke-dasharray="1.2 0.9"/>
<line x1="133.3" y1="93" x2="137.5" y2="95.6" stroke="#111" stroke-width="1.0"/>
<line x1="131" y1="119" x2="135" y2="123" stroke="#111" stroke-width="1.0"/>
<line x1="380.7" y1="137" x2="383" y2="139" stroke="#111" stroke-width="1.0"/>
<line x1="404.6" y1="136" x2="401.7" y2="140.8" stroke="#111" stroke-width="1.0"/>
<line x1="459" y1="81.6" x2="461" y2="83.6" stroke="#111" stroke-width="1.0"/>
<line x1="496.8" y1="70.8" x2="499.8" y2="73.6" stroke="#111" stroke-width="1.0"/>
<line x1="21.2" y1="210.2" x2="23.6" y2="212" stroke="#111" stroke-width="1.0"/>
<line x1="98" y1="251.4" x2="100.2" y2="248.5" stroke="#111" stroke-width="1.0"/>
<line x1="233.8" y1="210" x2="236.2" y2="212.8" stroke="#111" stroke-width="1.0"/>
<g font-family='"Liberation Sans", sans-serif' font-size="7.9" fill="#111" stroke="#111" stroke-width="0.25" text-anchor="middle">
<text x="46.9" y="150.85">1</text>
<text x="74.4" y="150.85">2</text>
<text x="100.2" y="150.85">3</text>
<text x="146.3" y="150.85">4</text>
<text x="186.4" y="150.85">5</text>
<text x="218.8" y="150.85">6</text>
<text x="284.6" y="150.85">7</text>
<text x="315.1" y="150.85">8</text>
<text x="393.2" y="152.15">9</text>
<text x="440.6" y="152.15">10</text>
<text x="474.4" y="152.15">11</text>
<text x="517.5" y="152.15">12</text>
<text x="47.7" y="262.05">13</text>
<text x="109.3" y="262.25">14</text>
<text x="155.2" y="262.05">15</text>
<text x="200.8" y="262.05">16</text>
<text x="253.5" y="261.65">17</text>
<text x="302.8" y="261.65">18</text>
<text x="336.7" y="261.15">19</text>
<text x="377.8" y="261.15">20</text>
<text x="416.2" y="263.15">21</text>
<text x="446.9" y="263.85">22</text>
<text x="472.9" y="263.15">X</text>
<text x="507.3" y="263.15">Y</text>
</g>
<g font-family='"Liberation Sans", sans-serif' font-size="8.3" font-style="italic" fill="#111" stroke="#111" stroke-width="0.4">
<text x="5.2" y="30.9" textLength="27.7" lengthAdjust="spacingAndGlyphs">SIL-TAL1</text>
<text x="117.7" y="89.9" textLength="15.6" lengthAdjust="spacingAndGlyphs">LEF1</text>
<text x="109.6" y="116" textLength="23.1" lengthAdjust="spacingAndGlyphs">FBXW7</text>
<text x="252" y="124.2" textLength="15" lengthAdjust="spacingAndGlyphs">MYB</text>
<text x="331.8" y="71.5" textLength="39.5" lengthAdjust="spacingAndGlyphs">CDKN2A/2B</text>
<text x="341.3" y="134" textLength="41.7" lengthAdjust="spacingAndGlyphs">SET-NUP214</text>
<text x="402.5" y="124" textLength="28.8" lengthAdjust="spacingAndGlyphs">NUP214-</text>
<text x="402.5" y="134" textLength="17.5" lengthAdjust="spacingAndGlyphs">ABL1</text>
<text x="447" y="79" textLength="13.5" lengthAdjust="spacingAndGlyphs">WT1</text>
<text x="480.8" y="59.7" textLength="28.2" lengthAdjust="spacingAndGlyphs">CDKN1B</text>
<text x="486.4" y="68.3" textLength="15.8" lengthAdjust="spacingAndGlyphs">ETV6</text>
<text x="10.6" y="207.7" textLength="12.8" lengthAdjust="spacingAndGlyphs">RB1</text>
<text x="72.2" y="259.3" textLength="25.8" lengthAdjust="spacingAndGlyphs">BCL11B</text>
<text x="217" y="207.2" textLength="15.5" lengthAdjust="spacingAndGlyphs">TP53</text>
<text x="227.5" y="225.3" textLength="12.5" lengthAdjust="spacingAndGlyphs">NF1</text>
<text x="271.7" y="212.1" textLength="21.2" lengthAdjust="spacingAndGlyphs">PTPN2</text>
<text x="384.6" y="248.5" textLength="23.1" lengthAdjust="spacingAndGlyphs">RUNX1</text>
</g>
<path d="M208.4 276.9V380.5H363.05" fill="none" stroke="#1a1a1a" stroke-width="1.2"/>
<path d="M205.2 380.5H208.4M205.2 359.88H208.4M205.2 339.26H208.4M205.2 318.64H208.4M205.2 298.02H208.4M205.2 277.4H208.4M208.4 380.5V383.7M259.75 380.5V383.7M311.1 380.5V383.7M362.45 380.5V383.7" stroke="#1a1a1a" stroke-width="1.1"/>
<g font-family='"Liberation Sans", sans-serif' font-size="9.4" fill="#111" stroke="#111" stroke-width="0.5">
<text transform="translate(204.7 384.1) scale(0.93 1)" text-anchor="end">0</text>
<text transform="translate(204.7 363.48) scale(0.93 1)" text-anchor="end">20</text>
<text transform="translate(204.7 342.86) scale(0.93 1)" text-anchor="end">40</text>
<text transform="translate(204.7 322.24) scale(0.93 1)" text-anchor="end">60</text>
<text transform="translate(204.7 301.62) scale(0.93 1)" text-anchor="end">80</text>
<text transform="translate(204.7 281) scale(0.93 1)" text-anchor="end">100</text>
<text transform="translate(208.4 392.9) scale(0.93 1)" text-anchor="middle">0</text>
<text transform="translate(259.75 392.9) scale(0.93 1)" text-anchor="middle">5</text>
<text transform="translate(311.1 392.9) scale(0.93 1)" text-anchor="middle">10</text>
<text transform="translate(362.45 392.9) scale(0.93 1)" text-anchor="middle">15</text>
<text transform="translate(285 405) scale(1 1)" text-anchor="middle">years</text>
<text transform="translate(180 326.8) rotate(-90) scale(1 1)" stroke-width="0.5" x="-39.9" y="3.38" textLength="79.8" lengthAdjust="spacingAndGlyphs">Overall survival (%)</text>
</g>
<path d="M208.4 284.8H214.5V293H215.5V308.5H217.8V309.8H219.2V312.5H220.5V316.6H222.6V318.6H223.9V324H226.6V326H228.6V328.8H230.7V332.1H232.7V334.2H234V338.2H236.8V340.9H237.4V344.5H276.5V357H311V380.5" fill="none" stroke="#bb262b" stroke-width="1.35"/>
<path d="M250.5 344.5V341.9M259 344.5V341.9M260.5 344.5V341.9M281.3 357V354.4" stroke="#222" stroke-width="0.8"/>
<path d="M208.4 277.4H213.6V287H214.6V297H221.9V301H227.3V305.1H234.7V311H236.1V317.9H246.2V322.5H261.3V327.8H361.6" fill="none" stroke="#2b2f9e" stroke-width="1.35"/>
<path d="M219.9 297V294.4M246 317.9V315.3M257 322.5V319.9M271.3 327.8V325.2M279.5 327.8V325.2M289.5 327.8V325.2M298.8 327.8V325.2M305 327.8V325.2M312.5 327.8V325.2M322.5 327.8V325.2M345 327.8V325.2M361.3 327.8V325.2" stroke="#222" stroke-width="0.8"/>
<path d="M208.4 277.4V285" stroke="#bb262b" stroke-width="1.2"/>
<path d="M253.8 280.5H267" stroke="#bb262b" stroke-width="1.3"/>
<path d="M260.4 280.5V278.1" stroke="#222" stroke-width="0.8"/>
<path d="M253.8 293.8H267" stroke="#2b2f9e" stroke-width="1.3"/>
<path d="M260.4 293.8V291.4" stroke="#222" stroke-width="0.8"/>
<g font-family='"Liberation Sans", sans-serif' font-size="9.35" fill="#111" stroke="#111" stroke-width="0.5">
<text transform="translate(272 283.4) scale(1 1)">ABD</text>
<text transform="translate(272 296.5) scale(1 1)">biallelic deletion <tspan font-style="italic">TCRγ</tspan></text>
<text transform="translate(322 372.2) scale(1 1)" textLength="44" lengthAdjust="spacingAndGlyphs">p = 0.0217</text>
</g>
<path d="M74.2 435.3V548.4H242.2" fill="none" stroke="#1a1a1a" stroke-width="1.2"/>
<path d="M71 548.4H74.2M71 525.88H74.2M71 503.36H74.2M71 480.84H74.2M71 458.32H74.2M71 435.8H74.2M74.2 548.4V551.6M130 548.4V551.6M185.8 548.4V551.6M241.6 548.4V551.6" stroke="#1a1a1a" stroke-width="1.1"/>
<g font-family='"Liberation Sans", sans-serif' font-size="9.4" fill="#111" stroke="#111" stroke-width="0.5">
<text transform="translate(67.8 552) scale(0.93 1)" text-anchor="end">0</text>
<text transform="translate(67.8 529.48) scale(0.93 1)" text-anchor="end">20</text>
<text transform="translate(67.8 506.96) scale(0.93 1)" text-anchor="end">40</text>
<text transform="translate(67.8 484.44) scale(0.93 1)" text-anchor="end">60</text>
<text transform="translate(67.8 461.92) scale(0.93 1)" text-anchor="end">80</text>
<text transform="translate(67.8 439.4) scale(0.93 1)" text-anchor="end">100</text>
<text transform="translate(74.2 561.7) scale(0.93 1)" text-anchor="middle">0</text>
<text transform="translate(130 561.7) scale(0.93 1)" text-anchor="middle">5</text>
<text transform="translate(185.8 561.7) scale(0.93 1)" text-anchor="middle">10</text>
<text transform="translate(241.6 561.7) scale(0.93 1)" text-anchor="middle">15</text>
<text transform="translate(157 574) scale(1 1)" text-anchor="middle">years</text>
<text transform="translate(42.9 493.5) rotate(-90) scale(1 1)" stroke-width="0.5" x="-41.5" y="3.38" textLength="83" lengthAdjust="spacingAndGlyphs">Overall survival (%)</text>
</g>
<path d="M74.2 435.8V441.4H79.4V450H80.5V460H81.5V470.5H85.7V473.7H86.7V476.8H88.8V480H90.9V483.6H95V485H97.1V488.2H99.2V490.3H100.8V494.4H102.3V498.6H104.4V501.7H114.8V505.3H130.4V510H148V517.5H184.5V527.5H240.5" fill="none" stroke="#bb262b" stroke-width="1.35"/>
<path d="M114.8 501.7V499.1M120 505.3V502.7M129.3 505.3V502.7M141.8 510V507.4M152.8 517.5V514.9M187.5 527.5V524.9M240 527.5V524.9" stroke="#222" stroke-width="0.8"/>
<path d="M74.2 435.5H81.5V443.5H90.5V451.8H94.6V460.1H104V475.7H223" fill="none" stroke="#2b2f9e" stroke-width="1.35"/>
<path d="M76.5 435.5V432.9M114.8 475.7V473.1M126.2 475.7V473.1M151.2 475.7V473.1M158.8 475.7V473.1M172 475.7V473.1M182 475.7V473.1M198.8 475.7V473.1M222.5 475.7V473.1" stroke="#222" stroke-width="0.8"/>
<path d="M116 429.5H130" stroke="#bb262b" stroke-width="1.3"/>
<path d="M123 429.5V427.1" stroke="#222" stroke-width="0.8"/>
<path d="M116 451.8H130" stroke="#2b2f9e" stroke-width="1.3"/>
<path d="M123 451.8V449.4" stroke="#222" stroke-width="0.8"/>
<g font-family='"Liberation Sans", sans-serif' font-size="9.35" fill="#111" stroke="#111" stroke-width="0.5">
<text transform="translate(134.5 425.5) scale(1 1)">No <tspan font-style="italic">CDKN2A/CDKN2B</tspan></text>
<text transform="translate(134.5 436.5) scale(1 1)">homozygous deletion</text>
<text transform="translate(134.5 450.5) scale(1 1)" font-style="italic">CDKN2A/CDKN2B</text>
<text transform="translate(134.5 461.5) scale(1 1)">homozygous deletion</text>
<text transform="translate(198.8 544) scale(1 1)" textLength="43.2" lengthAdjust="spacingAndGlyphs">p = 0.0119</text>
</g>
<path d="M328.8 436.8V549.4H498.15" fill="none" stroke="#1a1a1a" stroke-width="1.2"/>
<path d="M325.6 549.4H328.8M325.6 526.98H328.8M325.6 504.56H328.8M325.6 482.14H328.8M325.6 459.72H328.8M325.6 437.3H328.8M328.8 549.4V552.6M385.05 549.4V552.6M441.3 549.4V552.6M497.55 549.4V552.6" stroke="#1a1a1a" stroke-width="1.1"/>
<g font-family='"Liberation Sans", sans-serif' font-size="9.4" fill="#111" stroke="#111" stroke-width="0.5">
<text transform="translate(323.1 553) scale(0.93 1)" text-anchor="end">0</text>
<text transform="translate(323.1 530.58) scale(0.93 1)" text-anchor="end">20</text>
<text transform="translate(323.1 508.16) scale(0.93 1)" text-anchor="end">40</text>
<text transform="translate(323.1 485.74) scale(0.93 1)" text-anchor="end">60</text>
<text transform="translate(323.1 463.32) scale(0.93 1)" text-anchor="end">80</text>
<text transform="translate(323.1 440.9) scale(0.93 1)" text-anchor="end">100</text>
<text transform="translate(328.8 563) scale(0.93 1)" text-anchor="middle">0</text>
<text transform="translate(385.05 563) scale(0.93 1)" text-anchor="middle">5</text>
<text transform="translate(441.3 563) scale(0.93 1)" text-anchor="middle">10</text>
<text transform="translate(497.55 563) scale(0.93 1)" text-anchor="middle">15</text>
<text transform="translate(412.5 575.7) scale(1 1)" text-anchor="middle">years</text>
<text transform="translate(297 495.7) rotate(-90) scale(1 1)" stroke-width="0.5" x="-40.3" y="3.38" textLength="80.6" lengthAdjust="spacingAndGlyphs">Overall survival (%)</text>
</g>
<path d="M328.8 437.3H329.5V459.5H335.5V482H337.1V526.7H358.8V549.4" fill="none" stroke="#bb262b" stroke-width="1.3"/>
<path d="M337 482V479.4" stroke="#222" stroke-width="0.8"/>
<path d="M329.2 437.3V459.5" stroke="#bb262b" stroke-width="2"/>
<path d="M328.8 437.3H332.4V438H334.4V439.5H335.5V444.5H336.5V450.8H337.6V455H338.6V458H340.7V459H341.7V462.2H342.8V464.3H343.8V467.4H345.9V470.5H349V473.7H350V475.7H352.1V477.8H354.2V478.9H356.3V482H357.3V485.1H358.8V488.2H360.4V490.3H368.7V492.4H385.4V496.5H403V500.7H438.3V510H495" fill="none" stroke="#2b2f9e" stroke-width="1.35"/>
<path d="M369.8 490.3V487.7M375 492.4V489.8M380.2 492.4V489.8M383.3 492.4V489.8M396.8 496.5V493.9M406.2 500.7V498.1M413.8 500.7V498.1M427.5 500.7V498.1M436.3 500.7V498.1M442.5 510V507.4M453.8 510V507.4M477.5 510V507.4M495 510V507.4" stroke="#222" stroke-width="0.8"/>
<path d="M386.3 438H400" stroke="#bb262b" stroke-width="1.3"/>
<path d="M393.15 438V435.6" stroke="#222" stroke-width="0.8"/>
<path d="M386.3 462.5H400" stroke="#2b2f9e" stroke-width="1.3"/>
<path d="M393.15 462.5V460.1" stroke="#222" stroke-width="0.8"/>
<g font-family='"Liberation Sans", sans-serif' font-size="9.35" fill="#111" stroke="#111" stroke-width="0.5">
<text transform="translate(405 440.6) scale(1 1)"><tspan font-style="italic">TP53</tspan> (17p) deletion</text>
<text transform="translate(405 465.4) scale(1 1)"><tspan font-style="italic">TP53</tspan> (17p) wildtype</text>
<text transform="translate(452.5 545.2) scale(1 1)" textLength="44" lengthAdjust="spacingAndGlyphs">p = 0.0005</text>
</g>
<g font-family='"Liberation Sans", sans-serif' font-weight="bold" fill="#111" stroke="#111" stroke-width="0.45">
<text x="0.3" y="8.9" font-size="10">A</text>
<text x="149.8" y="279.2" font-size="11">B</text>
<text x="29.3" y="427.1" font-size="11">C</text>
<text x="282.8" y="425.2" font-size="11">D</text>
</g>
</svg>
</body></html>
